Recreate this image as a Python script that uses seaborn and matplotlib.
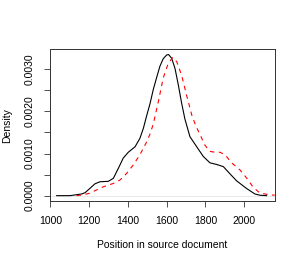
import matplotlib
matplotlib.use("Agg")
import matplotlib.pyplot as plt
import seaborn as sns
import pandas as pd

# Data (two kernel-density curves)
black_x = [1033, 1101, 1162, 1179, 1205, 1230, 1256, 1299, 1325, 1351, 1376, 1402,
           1437, 1462, 1480, 1497, 1514, 1531, 1548, 1565, 1582, 1600, 1610, 1626,
           1643, 1660, 1677, 1694, 1720, 1755, 1789, 1823, 1858, 1892, 1926, 1961,
           2012, 2055, 2081, 2115]
black_y = [0.0, 0.0, 0.00004, 0.00007, 0.000175, 0.00028, 0.00033, 0.00034, 0.00041,
           0.00065, 0.00089, 0.00103, 0.00116, 0.00136, 0.00160, 0.00190, 0.00218,
           0.00252, 0.00280, 0.00307, 0.00325, 0.00334, 0.00335, 0.00326, 0.00302,
           0.00263, 0.00220, 0.00182, 0.00140, 0.00116, 0.00093, 0.00078, 0.00074,
           0.00069, 0.00052, 0.00035, 0.00017, 0.00004, 0.00001, 0.0]

red_x = [1136, 1170, 1205, 1222, 1273, 1325, 1359, 1394, 1428, 1462, 1497, 1514,
         1531, 1557, 1582, 1608, 1631, 1652, 1677, 1703, 1729, 1750, 1775, 1797,
         1823, 1850, 1875, 1901, 1935, 1978, 2012, 2046, 2081, 2132, 2157]
red_y = [0.0, 0.00002, 0.00006, 0.0001, 0.00021, 0.00029, 0.00037, 0.00053, 0.00073,
         0.00097, 0.00128, 0.00146, 0.00170, 0.00223, 0.00279, 0.00314, 0.00328,
         0.00318, 0.00286, 0.00238, 0.00192, 0.00166, 0.00142, 0.00120, 0.00105,
         0.00103, 0.00103, 0.00097, 0.00078, 0.00061, 0.00042, 0.00020, 0.00006,
         0.00002, 0.00001]

x_ticks = [1000, 1200, 1400, 1600, 1800, 2000]
y_ticks = [0.0, 0.0005, 0.0010, 0.0015, 0.0020, 0.0025, 0.0030]
y_tick_labels = ["0.0000", "", "0.0010", "", "0.0020", "", "0.0030"]

xlabel = "Position in source document"
ylabel = "Density"

black_df = pd.DataFrame({"x": black_x, "y": black_y})
red_df = pd.DataFrame({"x": red_x, "y": red_y})

plt.rcParams["font.family"] = ["Liberation Sans", "DejaVu Sans"]

fig = plt.figure(figsize=(3.0, 2.63), dpi=100)
ax = fig.add_axes([0.165, 0.2346, 0.7507, 0.5772])

ax.axhline(0, color="#d8d8d8", lw=0.4, zorder=1)
sns.lineplot(data=black_df, x="x", y="y", ax=ax, color="black", lw=0.8, zorder=3)
sns.lineplot(data=red_df, x="x", y="y", ax=ax, color="red", lw=0.8,
             linestyle=(0, (4, 4)), zorder=4)

fs = 7.5
ax.set_xlim(996, 2157)
ax.set_ylim(-0.000134, 0.00347)
ax.set_xticks(x_ticks)
ax.set_xticklabels([str(t) for t in x_ticks], fontsize=fs)
ax.set_yticks(y_ticks)
ax.set_yticklabels(y_tick_labels, fontsize=fs, rotation=90, va="center")
ax.tick_params(axis="both", length=4.5, width=0.6, color="#333333", pad=6)
for s in ax.spines.values():
    s.set_linewidth(0.7)
    s.set_color("#333333")

ax.set_xlabel(xlabel, fontsize=fs)
ax.set_ylabel(ylabel, fontsize=fs)
ax.xaxis.set_label_coords(0.5, -0.255)
ax.yaxis.set_label_coords(-0.168, 0.5)

fig.savefig("out.png", dpi=100, facecolor="white")
